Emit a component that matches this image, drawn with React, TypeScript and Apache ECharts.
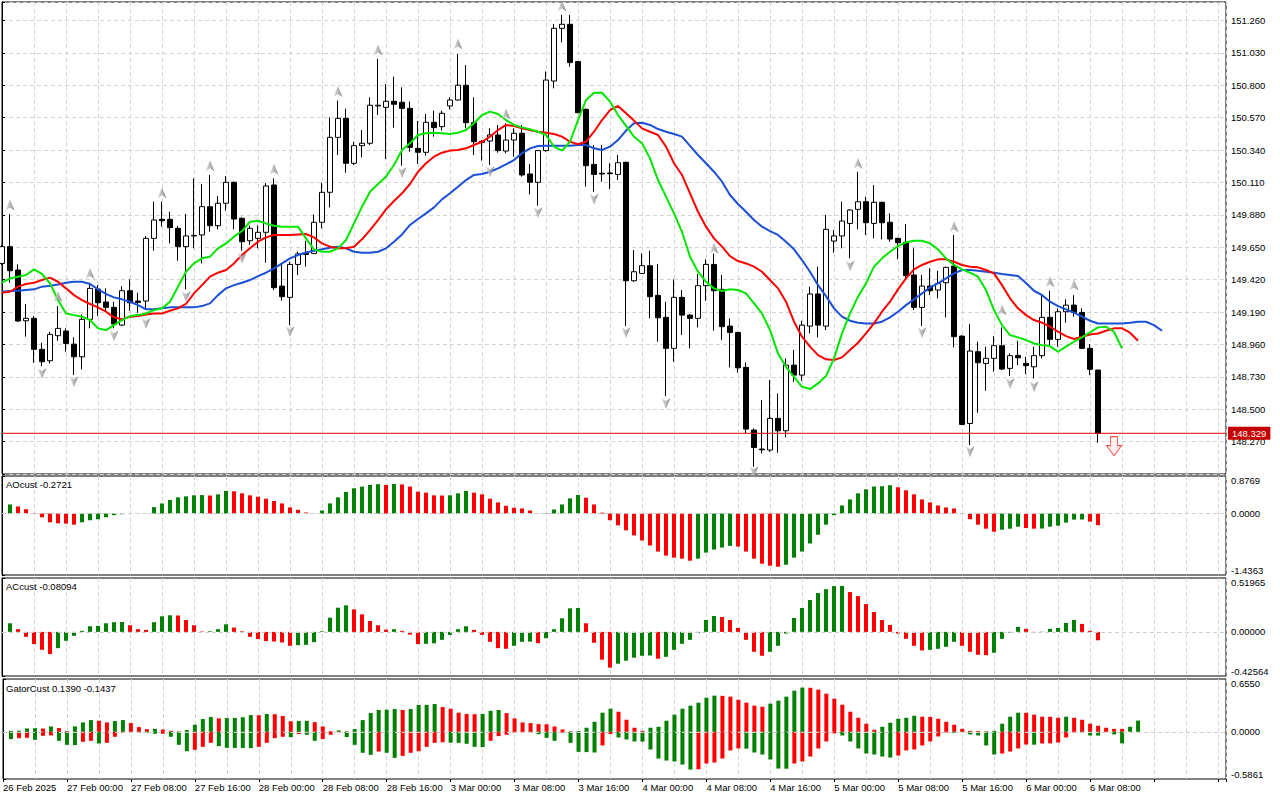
import React, { useEffect, useRef } from "react";
import * as echarts from "echarts";

// ---------- price data (H1 bars, index 0 = 26 Feb 16:00) ----------
const opens = [149.535,149.654,149.488,149.128,149.145,148.925,148.844,149.022,149.055,148.962,
148.872,149.138,149.353,149.261,149.223,149.097,149.341,149.268,149.268,149.713,
149.848,149.848,149.784,149.654,149.730,149.737,149.938,149.803,149.962,150.111,
149.855,149.696,149.713,149.756,150.092,149.374,149.294,149.528,149.606,149.606,
149.827,150.040,150.430,150.565,150.246,150.371,150.388,150.653,150.643,150.686,
150.679,150.636,150.352,150.324,150.537,150.506,150.653,150.695,150.800,150.534,
150.402,150.404,150.447,150.333,150.411,150.459,150.170,150.111,150.336,150.830,
151.204,151.233,150.968,150.629,150.238,150.175,150.177,150.167,150.253,149.412,
149.464,149.519,149.308,149.152,148.932,149.294,149.168,149.145,149.377,149.528,
149.351,149.090,149.045,148.797,148.352,148.217,148.210,148.435,148.347,148.813,
148.742,149.090,149.318,149.090,149.694,149.730,149.819,149.919,149.973,149.819,
149.969,149.827,149.713,149.685,149.453,149.223,149.374,149.346,149.398,149.516,
149.019,148.399,148.908,148.825,148.861,148.951,148.790,148.882,148.825,148.801,
148.880,149.152,148.996,149.192,149.239,149.187,148.932,148.778];

const closes = [149.654,149.483,149.126,149.145,148.925,148.837,149.031,149.074,148.967,148.872,
149.138,149.358,149.256,149.223,149.105,149.341,149.256,149.258,149.713,149.843,
149.838,149.789,149.654,149.730,149.734,149.938,149.803,149.962,150.111,149.850,
149.689,149.784,149.756,150.085,149.363,149.299,149.528,149.602,149.599,149.827,
150.040,150.430,150.565,150.246,150.371,150.388,150.658,150.658,150.686,150.665,
150.636,150.359,150.324,150.537,150.499,150.601,150.695,150.800,150.534,150.399,
150.395,150.447,150.336,150.411,150.459,150.163,150.111,150.336,150.837,151.204,
151.233,150.961,150.605,150.229,150.167,150.170,150.172,150.250,149.412,149.476,
149.519,149.299,149.149,148.932,149.294,149.168,149.145,149.377,149.528,149.341,
149.086,149.045,148.794,148.359,148.229,148.212,148.435,148.347,148.813,148.742,
149.097,149.318,149.097,149.777,149.730,149.836,149.914,149.973,149.824,149.969,
149.824,149.708,149.682,149.448,149.223,149.374,149.341,149.393,149.507,149.015,
148.392,148.913,148.830,148.861,148.951,148.785,148.880,148.865,148.809,148.880,
149.152,148.996,149.192,149.239,149.187,148.932,148.783,148.329];

const lows = [149.524,149.398,149.121,149.015,148.830,148.806,148.825,148.986,148.908,148.742,
148.783,149.074,149.161,149.192,149.074,149.090,149.199,149.185,149.216,149.625,
149.796,149.677,149.554,149.351,149.642,149.535,149.760,149.777,149.909,149.777,
149.625,149.666,149.642,149.540,149.346,149.270,149.097,149.453,149.512,149.602,
149.784,149.933,150.305,150.179,150.234,150.288,150.376,150.589,150.276,150.499,
150.229,150.328,150.241,150.300,150.435,150.478,150.629,150.691,150.494,150.305,
150.265,150.234,150.321,150.317,150.293,150.151,150.025,149.945,150.328,150.778,
151.105,150.932,150.601,150.080,150.044,150.115,150.061,150.127,149.090,149.405,
149.460,149.145,148.979,148.593,148.837,149.026,148.932,149.081,149.270,149.057,
148.991,148.797,148.759,148.328,148.091,148.186,148.198,148.191,148.300,148.695,
148.702,149.038,149.010,149.062,149.611,149.642,149.571,149.777,149.737,149.713,
149.706,149.689,149.564,149.422,149.204,149.090,149.310,149.287,149.152,148.939,
148.387,148.245,148.475,148.631,148.766,148.778,148.735,148.813,148.749,148.719,
148.861,148.955,148.944,149.114,149.157,148.927,148.742,148.262];

const highs = [149.666,149.886,149.528,149.247,149.161,148.972,149.050,149.232,149.074,149.010,
149.173,149.398,149.381,149.358,149.263,149.374,149.422,149.327,149.730,149.973,
149.973,149.902,149.801,149.886,150.139,150.099,150.163,150.014,150.156,150.115,
149.862,149.803,149.805,150.106,150.139,149.535,149.547,149.618,149.696,149.883,
150.108,150.572,150.691,150.634,150.399,150.482,150.714,150.987,150.809,150.861,
150.785,150.684,150.546,150.596,150.620,150.620,150.714,151.022,150.944,150.714,
150.411,150.494,150.518,150.530,150.494,150.518,150.241,150.340,150.897,151.235,
151.299,151.299,150.972,150.636,150.376,150.376,150.246,150.305,150.257,149.630,
149.606,149.625,149.531,149.263,149.422,149.346,149.176,149.460,149.564,149.606,
149.453,149.145,149.050,148.832,148.364,148.565,148.707,148.612,148.861,148.920,
149.128,149.370,149.512,149.879,149.772,149.973,149.921,150.186,150.009,150.092,
149.973,149.890,149.718,149.815,149.642,149.453,149.500,149.483,149.512,149.737,
149.026,149.105,148.979,148.944,149.019,149.081,148.896,148.986,148.872,148.944,
149.310,149.341,149.216,149.280,149.310,149.216,148.962,148.778];

// ---------- Alligator lines (already shifted forward) ----------
const jaw = [149.334,149.339,149.341,149.346,149.351,149.370,149.377,149.386,149.398,149.405,
149.405,149.389,149.351,149.318,149.294,149.280,149.263,149.239,149.209,149.209,
149.216,149.223,149.223,149.223,149.223,149.232,149.251,149.310,149.358,149.381,
149.398,149.417,149.445,149.469,149.500,149.535,149.571,149.595,149.613,149.625,
149.635,149.647,149.654,149.642,149.618,149.611,149.611,149.618,149.642,149.689,
149.741,149.808,149.850,149.890,149.933,149.990,150.033,150.080,150.127,150.163,
150.170,150.186,150.210,150.238,150.269,150.317,150.352,150.369,150.371,150.371,
150.371,150.371,150.376,150.376,150.352,150.340,150.364,150.411,150.478,150.530,
150.534,150.518,150.489,150.470,150.454,150.435,150.369,150.305,150.246,150.186,
150.115,150.021,149.957,149.902,149.843,149.796,149.765,149.737,149.689,149.635,
149.559,149.476,149.381,149.303,149.216,149.157,149.128,149.114,149.109,149.109,
149.121,149.152,149.192,149.239,149.280,149.322,149.365,149.393,149.429,149.464,
149.488,149.488,149.483,149.476,149.469,149.460,149.453,149.445,149.396,149.341,
149.310,149.263,149.232,149.209,149.185,149.157,149.128,149.109,149.109,149.109,
149.109,149.114,149.121,149.121,149.097,149.057];

const teeth = [149.327,149.334,149.370,149.389,149.398,149.417,149.434,149.405,149.358,149.310,
149.275,149.247,149.223,149.192,149.152,149.138,149.157,149.161,149.173,149.180,
149.180,149.199,149.216,149.247,149.322,149.381,149.441,149.469,149.488,149.535,
149.595,149.642,149.689,149.720,149.737,149.737,149.737,149.741,149.744,149.720,
149.677,149.654,149.642,149.642,149.654,149.706,149.772,149.843,149.919,149.978,
150.033,150.099,150.186,150.246,150.293,150.321,150.336,150.340,150.352,150.376,
150.399,150.435,150.482,150.518,150.511,150.494,150.482,150.470,150.463,150.454,
150.435,150.399,150.381,150.399,150.470,150.553,150.624,150.653,150.601,150.549,
150.494,150.470,150.447,150.364,150.246,150.163,150.033,149.902,149.796,149.713,
149.654,149.587,149.552,149.535,149.512,149.476,149.417,149.358,149.263,149.121,
149.015,148.944,148.884,148.854,148.849,148.868,148.920,148.972,149.038,149.109,
149.192,149.263,149.351,149.429,149.493,149.524,149.547,149.564,149.564,149.547,
149.524,149.512,149.507,149.488,149.464,149.381,149.287,149.216,149.168,149.133,
149.114,149.086,149.050,149.019,148.998,149.015,149.031,149.038,149.057,149.074,
149.074,149.043,148.986];

const lips = [149.398,149.429,149.441,149.453,149.493,149.460,149.393,149.275,149.180,149.168,
149.157,149.133,149.074,149.062,149.097,149.133,149.161,149.168,149.180,149.204,
149.216,149.263,149.370,149.476,149.535,149.571,149.583,149.642,149.677,149.725,
149.765,149.831,149.838,149.819,149.803,149.796,149.796,149.796,149.713,149.635,
149.618,149.618,149.642,149.701,149.819,149.938,150.044,150.099,150.151,150.234,
150.340,150.388,150.447,150.459,150.463,150.459,150.454,150.463,150.482,150.530,
150.589,150.613,150.596,150.553,150.518,150.501,150.487,150.470,150.447,150.364,
150.336,150.399,150.553,150.695,150.747,150.747,150.684,150.589,150.511,150.435,
150.388,150.281,150.127,150.009,149.890,149.760,149.583,149.476,149.405,149.358,
149.339,149.351,149.346,149.322,149.251,149.180,149.062,148.896,148.801,148.730,
148.659,148.643,148.683,148.735,148.861,149.038,149.180,149.299,149.393,149.512,
149.571,149.618,149.658,149.685,149.696,149.696,149.677,149.635,149.571,149.524,
149.493,149.469,149.441,149.346,149.204,149.097,149.026,149.010,148.991,148.967,
148.955,148.948,148.908,148.944,148.979,149.010,149.045,149.081,149.086,149.050,
148.932];

// ---------- Fractals ----------
const fractalUpIdx = [1,7,11,20,26,34,42,47,57,63,70,89,107,119,125,131,134];
const fractalUpPrice = [149.950,149.299,149.464,150.037,150.229,150.203,150.755,151.050,151.093,150.596,151.363,149.642,150.246,149.796,149.204,149.405,149.381];
const fractalDownIdx = [5,9,14,18,23,30,36,50,61,67,74,78,83,94,106,115,121,126,129];
const fractalDownPrice = [148.754,148.695,149.019,149.109,149.299,149.571,149.050,150.179,150.186,149.895,149.990,149.043,148.541,148.056,149.516,149.043,148.198,148.683,148.659];

const lastPrice = 148.329;
const priceLineSpan = [0, 153];
const sellSignal = [139, 148.238];

// ---------- Oscillators ----------
const aoValues = [null,0.212,0.165,0.102,0.008,-0.087,-0.205,-0.228,-0.236,-0.260,
-0.205,-0.157,-0.134,-0.087,-0.039,-0.016,0.012,0.006,0.004,0.149,
0.236,0.315,0.378,0.401,0.425,0.430,0.420,0.448,0.527,0.520,
0.472,0.425,0.393,0.346,0.291,0.236,0.142,0.087,0.024,0.005,
0.071,0.236,0.378,0.504,0.590,0.629,0.669,0.685,0.669,0.690,
0.680,0.629,0.511,0.488,0.425,0.420,0.425,0.472,0.527,0.488,
0.448,0.346,0.260,0.181,0.134,0.118,0.071,0.002,0.008,0.094,
0.212,0.354,0.433,0.370,0.212,0.020,-0.157,-0.275,-0.393,-0.511,
-0.629,-0.747,-0.889,-0.983,-1.031,-1.054,-1.102,-1.054,-0.913,-0.842,
-0.795,-0.755,-0.771,-0.889,-1.054,-1.172,-1.220,-1.243,-1.196,-1.031,
-0.889,-0.700,-0.496,-0.260,-0.039,0.189,0.330,0.472,0.566,0.630,
0.637,0.661,0.614,0.543,0.448,0.330,0.260,0.189,0.142,0.118,
-0.010,-0.134,-0.260,-0.354,-0.425,-0.378,-0.354,-0.307,-0.338,-0.354,
-0.350,-0.307,-0.283,-0.212,-0.142,-0.140,-0.189,-0.2721];

const acValues = [null,0.083,0.026,-0.048,-0.118,-0.173,-0.214,-0.157,-0.086,-0.038,
0.010,0.054,0.058,0.083,0.093,0.095,0.064,0.026,0.019,0.093,
0.150,0.160,0.158,0.115,0.064,0.004,0.006,0.026,0.073,0.042,
0.006,-0.048,-0.070,-0.089,-0.093,-0.102,-0.134,-0.128,-0.125,-0.099,
0.006,0.137,0.233,0.256,0.217,0.169,0.105,0.064,0.022,0.026,
0.010,-0.026,-0.118,-0.115,-0.110,-0.077,-0.029,0.026,0.054,0.019,
-0.029,-0.096,-0.157,-0.163,-0.134,-0.096,-0.094,-0.109,-0.061,0.026,
0.131,0.227,0.230,0.083,-0.105,-0.268,-0.345,-0.307,-0.278,-0.249,
-0.230,-0.228,-0.259,-0.240,-0.173,-0.115,-0.077,-0.010,0.115,0.153,
0.144,0.115,0.038,-0.077,-0.192,-0.230,-0.192,-0.134,-0.016,0.134,
0.230,0.307,0.374,0.412,0.441,0.443,0.384,0.345,0.268,0.192,
0.115,0.067,-0.016,-0.067,-0.134,-0.179,-0.173,-0.163,-0.144,-0.096,
-0.134,-0.192,-0.221,-0.225,-0.201,-0.067,-0.006,0.048,0.029,-0.004,
0.002,0.029,0.038,0.086,0.115,0.077,0.010,-0.08094];

const gatorUp = [null,0.012,0.014,0.041,0.044,0.040,0.066,0.046,0.008,0.066,
0.116,0.145,0.137,0.116,0.133,0.145,0.108,0.058,0.033,0.036,
0.028,0.012,0.004,0.021,0.087,0.158,0.183,0.166,0.170,0.172,
0.180,0.207,0.205,0.220,0.218,0.195,0.130,0.133,0.136,0.120,
0.066,0.008,0.017,0.004,0.033,0.145,0.232,0.270,0.274,0.282,
0.270,0.282,0.332,0.334,0.344,0.307,0.286,0.237,0.220,0.218,
0.222,0.260,0.270,0.232,0.166,0.116,0.108,0.095,0.093,0.066,
0.029,0.004,0.008,0.050,0.124,0.237,0.286,0.249,0.149,0.050,
0.012,0.050,0.062,0.137,0.212,0.286,0.324,0.361,0.423,0.448,
0.446,0.436,0.398,0.361,0.324,0.311,0.349,0.386,0.436,0.510,
0.548,0.546,0.523,0.473,0.411,0.336,0.249,0.174,0.100,0.025,
0.062,0.112,0.162,0.174,0.199,0.187,0.185,0.162,0.124,0.087,
0.037,0.012,0.010,0.005,0.012,0.100,0.187,0.237,0.236,0.212,
0.187,0.186,0.174,0.187,0.174,0.149,0.100,0.075,0.050,0.037,
0.036,0.062,0.139];

const gatorDown = [null,-0.091,-0.079,-0.075,-0.100,-0.050,-0.045,-0.112,-0.162,-0.165,
-0.124,-0.112,-0.145,-0.137,-0.062,-0.012,-0.010,-0.011,-0.012,-0.025,
-0.024,-0.062,-0.162,-0.241,-0.224,-0.187,-0.137,-0.178,-0.199,-0.200,
-0.201,-0.203,-0.187,-0.137,-0.079,-0.062,-0.066,-0.029,-0.037,-0.112,
-0.091,-0.037,-0.005,-0.066,-0.162,-0.261,-0.286,-0.245,-0.261,-0.324,
-0.299,-0.261,-0.241,-0.187,-0.137,-0.130,-0.135,-0.137,-0.149,-0.187,
-0.190,-0.112,-0.054,-0.037,-0.012,-0.010,-0.012,-0.029,-0.075,-0.112,
-0.012,-0.137,-0.249,-0.252,-0.257,-0.170,-0.029,-0.071,-0.095,-0.120,
-0.122,-0.220,-0.332,-0.357,-0.369,-0.407,-0.469,-0.465,-0.394,-0.382,
-0.332,-0.232,-0.207,-0.209,-0.257,-0.282,-0.344,-0.456,-0.458,-0.394,
-0.369,-0.307,-0.207,-0.120,-0.021,-0.046,-0.120,-0.207,-0.270,-0.282,
-0.307,-0.320,-0.295,-0.232,-0.220,-0.170,-0.120,-0.058,-0.008,-0.012,
-0.004,-0.033,-0.046,-0.170,-0.282,-0.270,-0.245,-0.207,-0.158,-0.160,
-0.145,-0.144,-0.133,-0.071,-0.008,-0.010,-0.046,-0.047,-0.004,-0.033,
-0.1437];

const timeLabels = ["26 Feb 2025","27 Feb 00:00","27 Feb 08:00","27 Feb 16:00","28 Feb 00:00","28 Feb 08:00","28 Feb 16:00","3 Mar 00:00","3 Mar 08:00","3 Mar 16:00","4 Mar 00:00","4 Mar 08:00","4 Mar 16:00","5 Mar 00:00","5 Mar 08:00","5 Mar 16:00","6 Mar 00:00","6 Mar 08:00"];

const aoRange = [-1.4363, 0.8769];
const acRange = [-0.42564, 0.51965];
const gatorRange = [-0.5861, 0.655];

const FONT = '"Liberation Sans", Arial, sans-serif';
const FS = 9.5;
const GREEN = "#008000";
const RED = "#ff0000";
const GRIDLINE = { color: "#d4d4d4", type: [4, 3], width: 1 };

function histogram(vals: (number | null)[], useAbs: boolean) {
  const out: any[] = [];
  let prev: number | null = null;
  vals.forEach((v, i) => {
    if (v == null) return;
    const cur = useAbs ? Math.abs(v) : v;
    const up = prev == null ? true : cur > prev;
    out.push({ value: [i, v], itemStyle: { color: up ? GREEN : RED } });
    prev = cur;
  });
  return out;
}

function subAxis(grid: number, range: number[], digits: number) {
  const [mn, mx] = range;
  const fmtNum = (v: number) => v.toFixed(digits);
  const txt = { fontSize: FS, fontFamily: FONT, color: "#000" };
  return {
    type: "value",
    gridIndex: grid,
    position: "right",
    min: mn,
    max: mx,
    axisLine: { show: true, lineStyle: { color: "#000", width: 1 } },
    axisTick: { show: true, length: 3, customValues: [mn, 0, mx], lineStyle: { color: "#000" } },
    axisLabel: {
      show: true,
      margin: 5,
      customValues: [mn, 0, mx],
      ...txt,
      formatter: (v: number) => {
        if (Math.abs(v) < 1e-9) return fmtNum(0);
        if (v > 0) return "{t|" + fmtNum(mx) + "}";
        return "{b|" + fmtNum(mn) + "}";
      },
      rich: {
        t: { ...txt, padding: [9, 0, 0, 0] },
        b: { ...txt, padding: [0, 0, 9, 0] },
      },
    },
    splitLine: { show: false },
  };
}

const zeroLine = {
  silent: true,
  symbol: ["none", "none"],
  animation: false,
  label: { show: false },
  lineStyle: { color: "#cfcfcf", type: [4, 3], width: 1 },
  data: [{ yAxis: 0 }],
};

export default function App() {
  const ref = useRef<HTMLDivElement>(null);

  useEffect(() => {
    if (!ref.current) return;
    const chart = echarts.init(ref.current, undefined, { renderer: "svg" });

    const grids = [
      { left: 2, top: 2, width: 1224, height: 472 },
      { left: 2, top: 476, width: 1224, height: 99 },
      { left: 2, top: 578, width: 1224, height: 98 },
      { left: 2, top: 679, width: 1224, height: 100 },
    ].map((g) => ({ ...g, show: true, borderColor: "#000", borderWidth: 1, backgroundColor: "#fff", containLabel: false }));

    const xAxes: any[] = [0, 1, 2, 3].map((g) => ({
      type: "value",
      gridIndex: g,
      min: 0,
      max: 153,
      interval: 4,
      axisLine: { show: false },
      axisTick: { show: false },
      axisLabel: { show: false },
      splitLine: { show: true, lineStyle: GRIDLINE },
    }));
    xAxes.push({
      type: "value",
      gridIndex: 3,
      min: 0,
      max: 153,
      interval: 8,
      position: "bottom",
      axisLine: { show: false },
      axisTick: { show: true, length: 3, lineStyle: { color: "#000" } },
      axisLabel: {
        show: true,
        align: "left",
        margin: 3,
        fontSize: FS,
        fontFamily: FONT,
        color: "#000",
        formatter: (v: number) => {
          const k = Math.round(v / 8);
          return Math.abs(v - k * 8) < 1e-6 && k < timeLabels.length ? timeLabels[k] : "";
        },
      },
      splitLine: { show: false },
    });

    const yAxes: any[] = [
      {
        type: "value",
        gridIndex: 0,
        position: "right",
        min: 148.04,
        max: 151.391,
        interval: 0.23,
        axisLine: { show: true, lineStyle: { color: "#000", width: 1 } },
        axisTick: { show: true, length: 3, lineStyle: { color: "#000" } },
        axisLabel: {
          show: true,
          margin: 5,
          fontSize: FS,
          fontFamily: FONT,
          color: "#000",
          formatter: (v: number) => (v > 148.2 && v < 151.3 ? v.toFixed(3) : ""),
        },
        splitLine: { show: true, lineStyle: GRIDLINE },
      },
      subAxis(1, aoRange, 4),
      subAxis(2, acRange, 5),
      subAxis(3, gatorRange, 4),
    ];

    const fractalFill = {
      type: "linear",
      x: 0,
      y: 0,
      x2: 1,
      y2: 0,
      colorStops: [
        { offset: 0, color: "#d8d8d8" },
        { offset: 0.5, color: "#a8a8a8" },
        { offset: 1, color: "#6e6e6e" },
      ],
    };

    const lineSeries = (data: number[], color: string) => ({
      type: "line",
      xAxisIndex: 0,
      yAxisIndex: 0,
      data: data.map((v, i) => [i, v]),
      symbol: "none",
      showSymbol: false,
      silent: true,
      lineStyle: { color, width: 2 },
      itemStyle: { color },
      z: 4,
    });

    const option: any = {
      animation: false,
      backgroundColor: "#ffffff",
      textStyle: { fontFamily: FONT },
      grid: grids,
      xAxis: xAxes,
      yAxis: yAxes,
      graphic: [
        { type: "text", left: 6, top: 479, z: 100, style: { text: "AOcust -0.2721", fontSize: FS, fontFamily: FONT, fill: "#000" } },
        { type: "text", left: 6, top: 581, z: 100, style: { text: "ACcust -0.08094", fontSize: FS, fontFamily: FONT, fill: "#000" } },
        { type: "text", left: 6, top: 683, z: 100, style: { text: "GatorCust 0.1390 -0.1437", fontSize: FS, fontFamily: FONT, fill: "#000" } },
      ],
      series: [
        {
          type: "candlestick",
          xAxisIndex: 0,
          yAxisIndex: 0,
          data: opens.map((o, i) => [i, o, closes[i], lows[i], highs[i]]),
          encode: { x: 0, y: [1, 2, 3, 4] },
          barWidth: 5,
          itemStyle: { color: "#ffffff", color0: "#000000", borderColor: "#000000", borderColor0: "#000000", borderWidth: 1 },
          z: 2,
        },
        {
          type: "line",
          xAxisIndex: 0,
          yAxisIndex: 0,
          data: priceLineSpan.map((x) => [x, lastPrice]),
          symbol: "none",
          showSymbol: false,
          silent: true,
          lineStyle: { color: "#e80000", width: 1 },
          itemStyle: { color: "#e80000" },
          z: 3,
          endLabel: {
            show: true,
            distance: 2,
            formatter: lastPrice.toFixed(3),
            color: "#ffffff",
            backgroundColor: "#c40000",
            padding: [2, 4, 1, 4],
            fontSize: FS,
            fontFamily: FONT,
          },
        },
        lineSeries(jaw, "#1a4fd6"),
        lineSeries(teeth, "#ff0000"),
        lineSeries(lips, "#00e600"),
        {
          type: "scatter",
          xAxisIndex: 0,
          yAxisIndex: 0,
          silent: true,
          data: fractalUpIdx.map((x, k) => [x, fractalUpPrice[k]]),
          symbol: "path://M5,0 L10,11 L5,8 L0,11 Z",
          symbolSize: [9, 11],
          itemStyle: { color: fractalFill },
          z: 5,
        },
        {
          type: "scatter",
          xAxisIndex: 0,
          yAxisIndex: 0,
          silent: true,
          data: fractalDownIdx.map((x, k) => [x, fractalDownPrice[k]]),
          symbol: "path://M0,0 L5,3 L10,0 L5,11 Z",
          symbolSize: [9, 11],
          itemStyle: { color: fractalFill },
          z: 5,
        },
        {
          type: "scatter",
          xAxisIndex: 0,
          yAxisIndex: 0,
          silent: true,
          data: [sellSignal],
          symbol: "path://M4,0 L11,0 L11,9 L15,9 L7.5,19 L0,9 L4,9 Z",
          symbolSize: [15, 19],
          itemStyle: { color: "#fff0f0", borderColor: "#ff2a2a", borderWidth: 1 },
          z: 6,
        },
        {
          type: "bar",
          xAxisIndex: 1,
          yAxisIndex: 1,
          barWidth: 4,
          data: histogram(aoValues, false),
          markLine: zeroLine,
        },
        {
          type: "bar",
          xAxisIndex: 2,
          yAxisIndex: 2,
          barWidth: 4,
          data: histogram(acValues, false),
          markLine: zeroLine,
        },
        {
          type: "bar",
          xAxisIndex: 3,
          yAxisIndex: 3,
          barWidth: 4,
          barGap: "-100%",
          data: histogram(gatorUp, true),
          markLine: zeroLine,
        },
        {
          type: "bar",
          xAxisIndex: 3,
          yAxisIndex: 3,
          barWidth: 4,
          barGap: "-100%",
          data: histogram(gatorDown, true),
        },
      ],
    };

    chart.setOption(option);
    return () => chart.dispose();
  }, []);

  return (
    <div
      ref={ref}
      style={{ position: "fixed", left: 0, top: 0, width: 1280, height: 800, background: "#ffffff" }}
    />
  );
}
